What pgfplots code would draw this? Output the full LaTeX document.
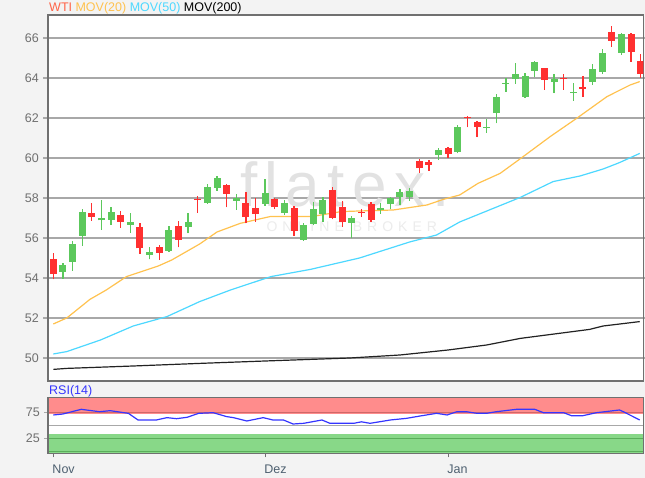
\documentclass[border=0pt]{standalone}
\usepackage{fontspec}
\setmainfont{Liberation Sans}
\usepackage{pgfplots}
\usepackage{pgfplotstable}
\pgfplotsset{compat=1.18}

\definecolor{bg}{HTML}{F3F3F3}
\definecolor{gridc}{HTML}{A8A8A8}
\definecolor{boxc}{HTML}{707070}
\definecolor{tickc}{HTML}{707070}
\definecolor{xlab}{HTML}{4E6070}
\definecolor{cup}{HTML}{5CC85C}
\definecolor{cdown}{HTML}{FF3030}
\definecolor{ma20}{HTML}{FFC24F}
\definecolor{ma50}{HTML}{4DD8FF}
\definecolor{ma200}{HTML}{222222}
\definecolor{rsic}{HTML}{3535FF}
\definecolor{redband}{HTML}{FF8C8C}
\definecolor{redline}{HTML}{D06868}
\definecolor{greenband}{HTML}{88D888}
\definecolor{greenline}{HTML}{5AAE5A}
\definecolor{wti}{HTML}{FF6448}
\definecolor{wm}{HTML}{E2E2E2}
\definecolor{wm2}{HTML}{ECECEC}

% daily candles, i = trading day index (0 = 1 Nov)
\pgfplotstableread{
i o h l c
1 54.32 54.74 53.95 54.63
2 54.80 55.85 54.37 55.70
3 56.10 57.45 55.62 57.32
5 56.88 57.90 56.40 57.02
6 56.90 57.57 56.65 57.32
8 56.67 57.23 56.27 56.80
10 55.17 55.57 54.93 55.30
12 55.37 56.60 55.32 56.40
14 56.57 57.27 56.23 56.80
16 57.77 58.68 57.70 58.57
17 58.52 59.10 58.37 59.00
19 57.85 58.18 57.40 58.02
22 57.70 58.94 57.62 58.27
24 57.27 57.90 57.15 57.74
26 55.90 56.74 55.87 56.67
27 56.70 57.82 56.64 57.44
28 57.20 58.07 56.82 57.90
31 56.77 57.10 55.98 56.98
34 57.40 57.73 57.20 57.48
35 57.70 58.07 57.44 57.99
36 58.04 58.44 57.65 58.32
37 58.07 58.49 57.87 58.37
40 60.15 60.49 59.90 60.40
42 60.32 61.65 60.24 61.57
45 61.49 61.95 61.27 61.57
46 62.24 63.20 61.74 63.07
47 63.70 64.00 63.30 63.77
48 63.95 64.73 63.70 64.20
49 63.07 64.24 63.02 64.12
50 64.37 64.85 64.04 64.79
52 63.79 64.20 63.24 63.95
54 63.24 63.77 62.87 63.32
56 63.82 64.69 63.65 64.44
57 64.32 65.44 64.20 65.27
59 65.25 66.25 65.17 66.22
}\upcandles

\pgfplotstableread{
i o h l c
0 54.94 55.24 53.94 54.19
4 57.27 57.73 56.85 57.07
7 57.15 57.37 56.52 56.82
9 56.53 56.73 55.20 55.48
11 55.53 55.65 54.90 55.27
13 56.60 56.85 55.53 55.90
15 57.97 58.10 57.27 57.90
18 58.64 58.68 57.54 58.20
20 57.74 58.29 56.74 57.04
21 57.50 57.99 56.82 57.19
23 57.94 58.02 57.44 57.54
25 57.52 57.60 56.10 56.35
29 58.40 58.57 56.94 57.02
30 57.54 57.87 56.57 56.82
32 57.32 57.44 57.07 57.24
33 57.70 57.82 56.82 56.90
38 59.87 59.94 59.24 59.49
39 59.82 59.90 59.37 59.65
41 60.49 60.57 59.99 60.19
43 62.07 62.10 61.54 61.99
44 61.82 61.87 61.04 61.54
51 64.49 64.52 63.40 63.90
53 64.00 64.20 63.40 63.93
55 63.54 64.10 63.07 63.45
58 66.29 66.60 65.57 65.87
60 66.22 66.25 64.80 65.30
61 64.85 65.20 64.00 64.20
}\downcandles

\pgfplotsset{
  candlewick/.style={only marks, mark=*, mark size=0pt, mark options={draw=none, fill=none},
    error bars/.cd, y dir=plus, y explicit, error mark=none,
    error bar style={line width=1.3pt, draw=#1}},
  candlebody/.style={only marks, mark=*, mark size=0pt, mark options={draw=none, fill=none},
    error bars/.cd, y dir=plus, y explicit, error mark=none,
    error bar style={line width=7pt, draw=#1}},
}

\begin{document}
\begin{tikzpicture}[x=1pt,y=1pt]
\fill[bg] (0,0) rectangle (645,478);
\path[use as bounding box] (0,0) rectangle (645,478);

% price panel
\begin{axis}[
  at={(48pt,97pt)}, anchor=south west, scale only axis,
  width=595.3pt, height=366pt,
  xmin=-0.55, xmax=61.27, ymin=48.85, ymax=67.15,
  axis background/.style={fill=white},
  axis line style={boxc, line width=1.2pt},
  xtick=\empty,
  ytick={50,52,...,66},
  ymajorgrids, grid style={gridc, line width=1.3pt},
  tick align=outside, major tick length=5pt,
  ytick style={gridc, line width=1.3pt},
  yticklabel style={font=\fontsize{12.5}{14}\selectfont, text=tickc, inner sep=0pt, xshift=-4pt},
  /pgf/number format/assume math mode=true,
  clip mode=individual,
]
\node[wm, font=\fontsize{62}{62}\selectfont\addfontfeatures{LetterSpace=12}] at (axis cs:30.3,58.7) {flatex.};
\node[wm2, font=\fontsize{14}{14}\selectfont\addfontfeatures{LetterSpace=36}] at (axis cs:31,56.55) {ONLINE BROKER};

\addplot[ma200, line width=1.2pt] coordinates {
(0,49.43)(1.4,49.48)(8.3,49.6)(15.2,49.73)(22,49.85)(30.8,50.0)(36,50.15)(41,50.4)(45,50.65)(48.5,50.98)(55.7,51.43)(57.1,51.6)(60.9,51.82)};
\addplot[ma50, line width=1.2pt] coordinates {
(0,50.2)(1.4,50.32)(4.9,50.9)(8.3,51.6)(11.8,52.07)(15.2,52.82)(18.4,53.4)(22.6,54.07)(26.7,54.43)(31.8,55.0)(37,55.8)(39.8,56.15)(42.2,56.8)(48.5,58.03)(51.9,58.82)(54.7,59.1)(57.1,59.45)(58.8,59.77)(60.9,60.23)};
\addplot[ma20, line width=1.2pt] coordinates {
(0,51.7)(1.4,52.0)(3.8,52.93)(5.5,53.4)(7.6,54.07)(10.9,54.6)(12.3,54.9)(15.2,55.7)(17,56.3)(19.4,56.73)(22.5,57.07)(25.1,57.07)(26.8,57.07)(29.9,57.32)(31.8,57.35)(35.3,57.4)(38.8,57.65)(40.5,57.93)(42.2,58.15)(44.1,58.73)(46.4,59.23)(48.6,60.0)(51.6,61.07)(54.4,62.0)(57.5,63.07)(59.9,63.65)(60.9,63.82)};

\addplot[candlewick=cup] table[x=i, y=l, y error plus expr=\thisrow{h}-\thisrow{l}] {\upcandles};
\addplot[candlebody=cup] table[x=i, y=o, y error plus expr=\thisrow{c}-\thisrow{o}] {\upcandles};
\addplot[candlewick=cdown] table[x=i, y=l, y error plus expr=\thisrow{h}-\thisrow{l}] {\downcandles};
\addplot[candlebody=cdown] table[x=i, y=c, y error plus expr=\thisrow{o}-\thisrow{c}] {\downcandles};

\node[anchor=base west, inner sep=0pt, font=\fontsize{12.5}{14}\selectfont] at ([xshift=1pt,yshift=3pt]rel axis cs:0,1)
  {\textcolor{wti}{WTI} \textcolor{ma20}{MOV(20)} \textcolor{ma50}{MOV(50)} \textcolor{black}{MOV(200)}};
\end{axis}

% RSI panel
\begin{axis}[
  at={(48pt,24.7pt)}, anchor=south west, scale only axis,
  width=595.3pt, height=56pt,
  xmin=-0.55, xmax=61.27, ymin=-3.8, ymax=103.8,
  axis background/.style={fill=white},
  axis line style={boxc, line width=1.2pt},
  axis on top,
  xtick={0,22,41}, xticklabels={Nov,Dez,Jan},
  ytick={25,75},
  tick align=outside, major tick length=4pt,
  xtick style={boxc, line width=1pt},
  ytick style={gridc, line width=1.3pt},
  xtick pos=bottom, ytick pos=left,
  yticklabel style={font=\fontsize{12.5}{14}\selectfont, text=tickc, inner sep=0pt, xshift=-4pt},
  xticklabel style={font=\fontsize{12.5}{14}\selectfont, text=xlab, anchor=north west, inner sep=0pt, xshift=-1pt, yshift=-7pt},
  /pgf/number format/assume math mode=true,
  clip mode=individual,
]
\addplot[draw=none, fill=redband] coordinates {(-1,71.5)(62,71.5)(62,110)(-1,110)} --cycle;
\addplot[draw=none, fill=greenband] coordinates {(-1,-10)(62,-10)(62,34)(-1,34)} --cycle;
\addplot[redline, line width=1.3pt] coordinates {(-1,75)(62,75)};
\addplot[greenline, line width=1.3pt] coordinates {(-1,25)(62,25)};
\addplot[greenline, line width=1.3pt] coordinates {(-1,0)(62,0)};
\addplot[gridc, line width=1.3pt] coordinates {(-1,50)(62,50)};
\addplot[rsic, line width=1.2pt] coordinates {
(0,69.8)(1,71.7)(2.9,80.7)(4.8,76.1)(5.9,78.1)(7.8,73)(8.8,60.2)(10.7,60.2)(11.8,64.7)(12.8,62.7)(13.9,65.4)(15.1,73)(16.6,74.2)(18,66.7)(18.7,64.7)(20.1,58.3)(21.8,64.7)(22.8,60.2)(23.9,60.2)(24.9,52.5)(26,53.8)(27.9,60.2)(28.7,54)(31.2,53.8)(32,56.7)(32.9,53.8)(35,60.2)(36.7,63.4)(38.1,67.9)(39.8,73)(40.9,69.8)(41.9,76.1)(42.9,76.1)(44,73)(45,73)(46,76.1)(48.1,80.7)(50,80.7)(50.9,74.2)(53,74.2)(53.8,68.5)(55,68.5)(56.4,74.2)(58.8,79.4)(59.2,76.1)(60.9,60.2)};
\node[anchor=base west, inner sep=0pt, font=\fontsize{12.5}{14}\selectfont, text=rsic] at ([xshift=1pt,yshift=3pt]rel axis cs:0,1) {RSI(14)};
\end{axis}
\end{tikzpicture}
\end{document}
